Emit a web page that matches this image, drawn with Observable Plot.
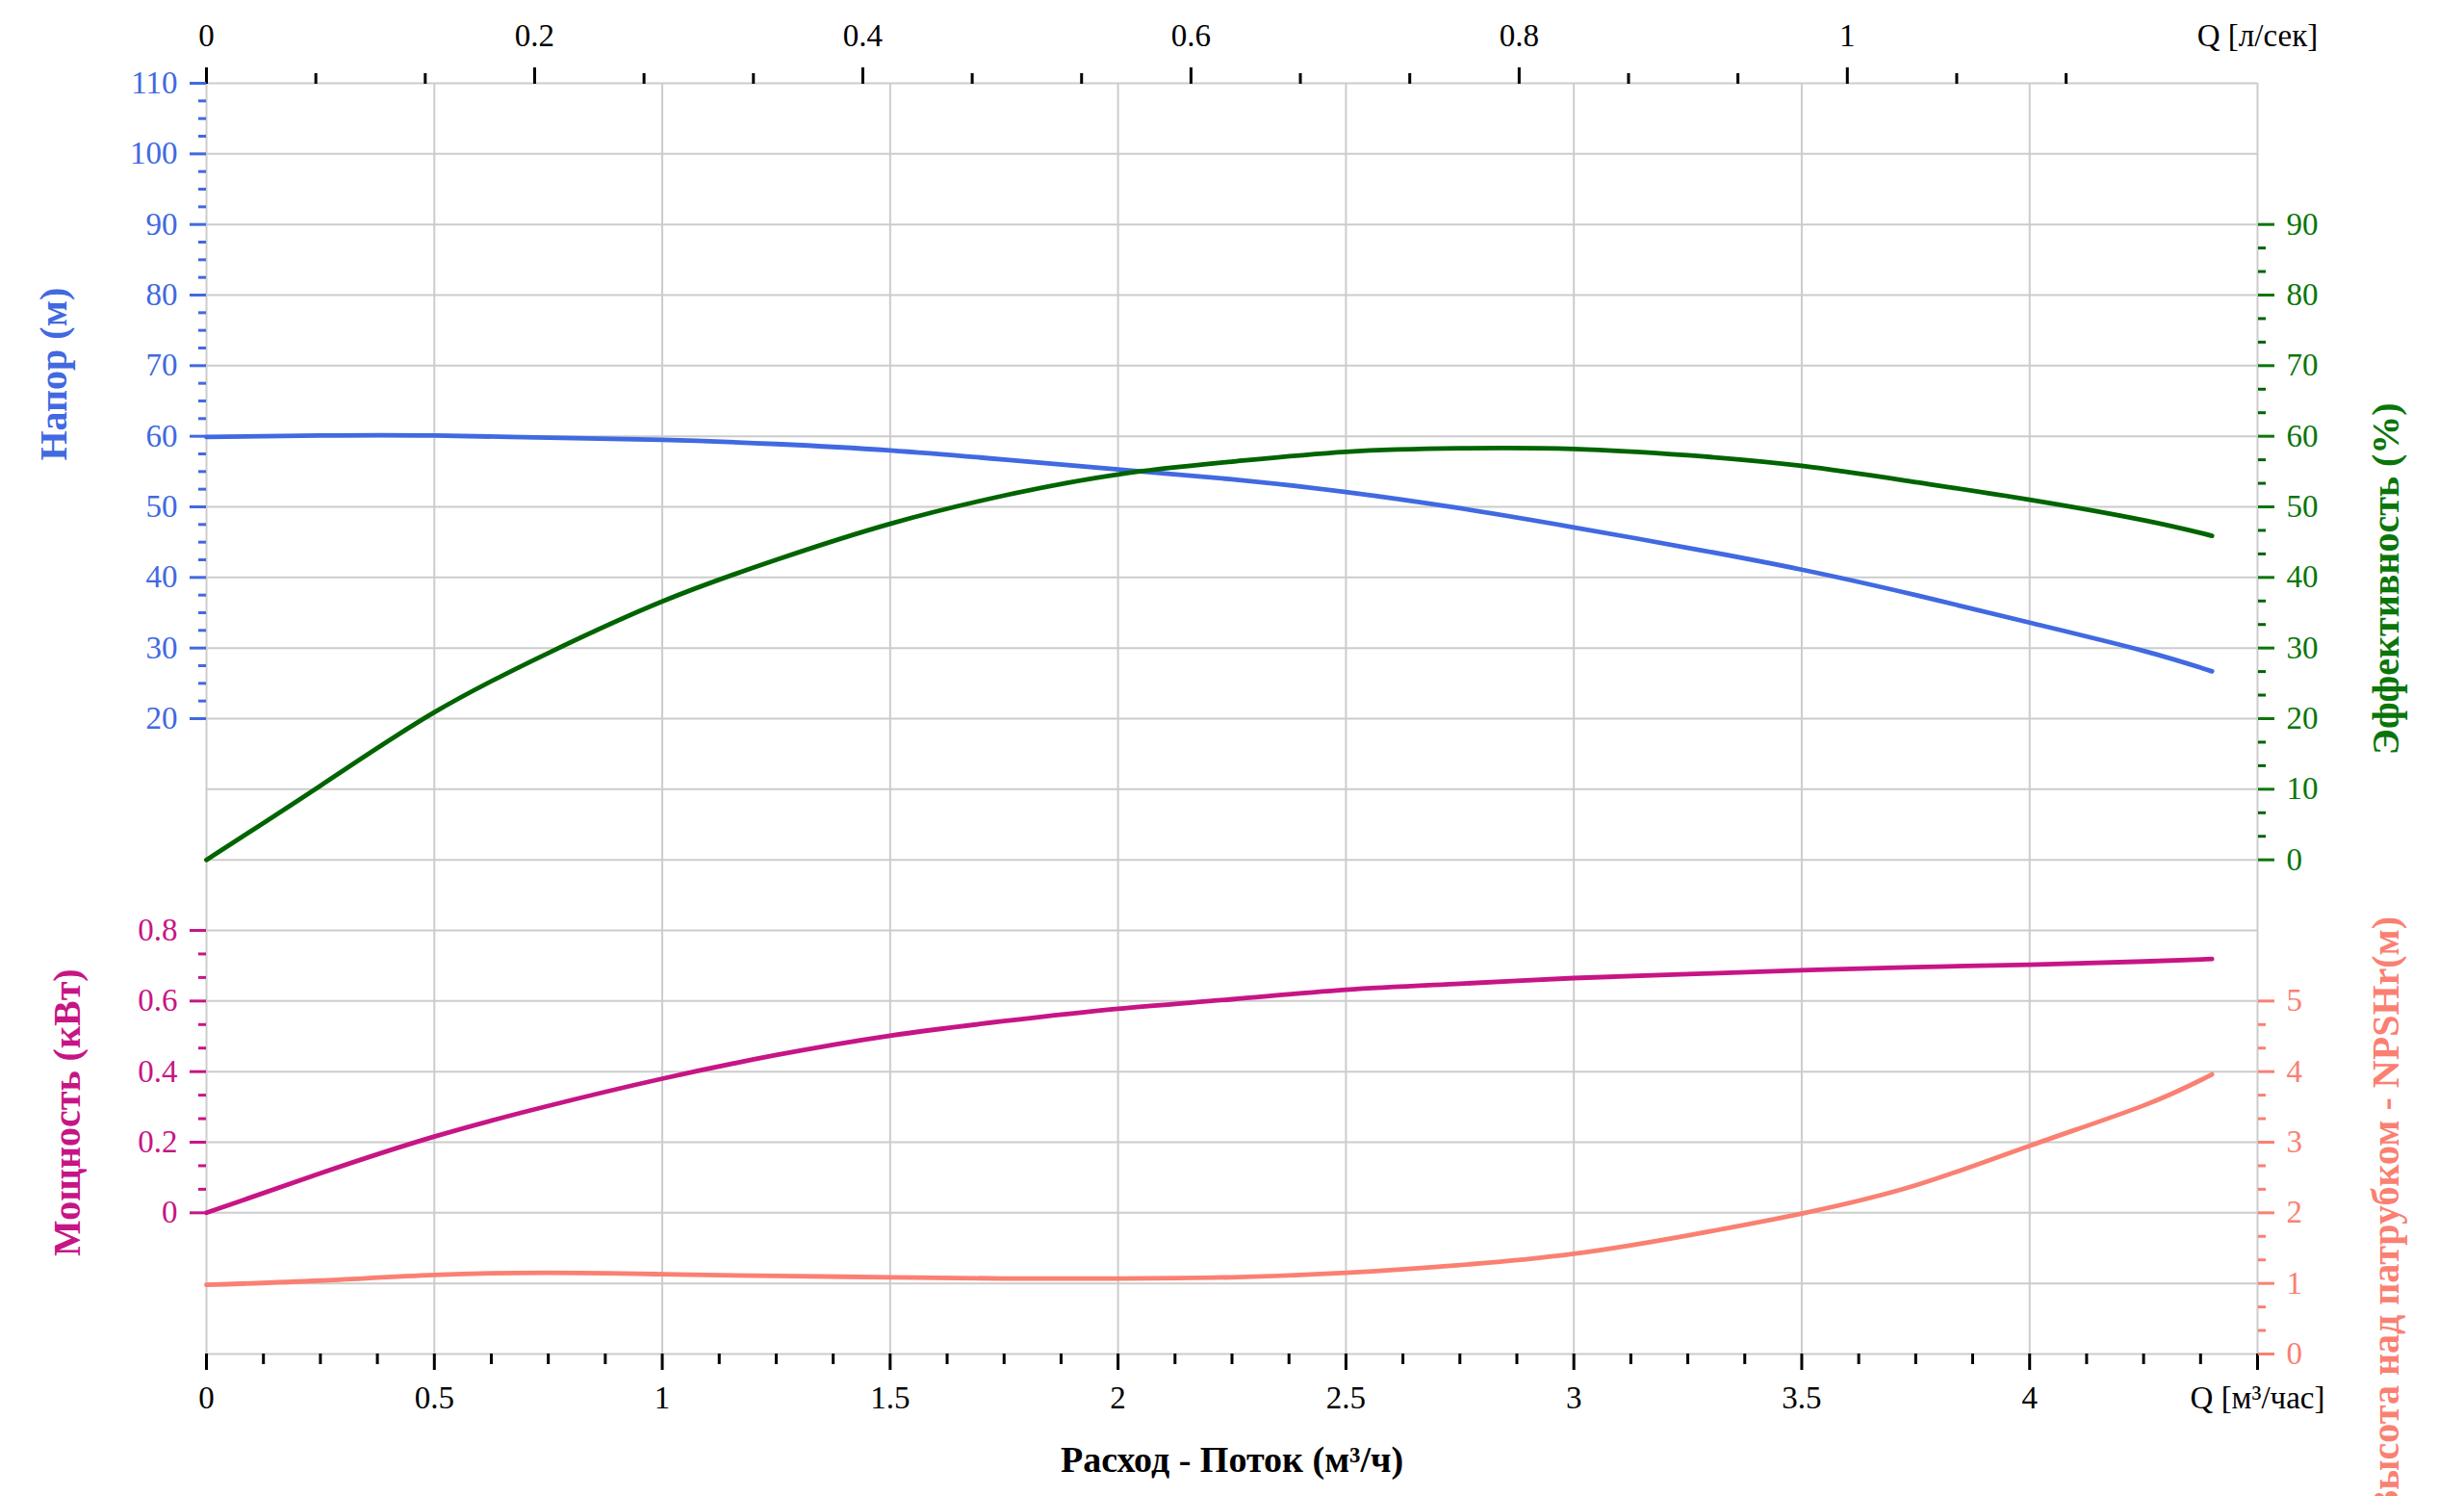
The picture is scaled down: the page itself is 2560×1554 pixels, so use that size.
<!DOCTYPE html>
<html>
<head>
<meta charset="utf-8">
<script src="https://cdn.jsdelivr.net/npm/d3@7"></script>
<script src="https://cdn.jsdelivr.net/npm/@observablehq/plot@0.6"></script>
<style>
html, body { margin: 0; padding: 0; background: #ffffff; }
#chart svg { display: block; }
#chart svg text { font-family: 'Liberation Serif', 'Times New Roman', serif; }
</style>
</head>
<body>
<div id="chart"></div>
<script>
// ---- data ----
const flowM3h = [0, 0.25, 0.5, 0.75, 1, 1.25, 1.5, 1.75, 2, 2.25, 2.5, 2.75, 3, 3.25, 3.5, 3.75, 4, 4.25, 4.4];
const headM = [59.9, 60.1, 60.1, 59.8, 59.5, 58.9, 58.0, 56.7, 55.3, 53.9, 52.1, 49.8, 47.1, 44.2, 41.1, 37.5, 33.6, 29.6, 26.7];
const efficiencyPct = [0, 10.5, 20.9, 29.3, 36.6, 42.5, 47.6, 51.6, 54.6, 56.4, 57.8, 58.3, 58.2, 57.3, 55.8, 53.5, 51.0, 48.1, 45.9];
const powerKW = [0, 0.112, 0.216, 0.303, 0.380, 0.447, 0.502, 0.543, 0.578, 0.605, 0.632, 0.649, 0.665, 0.676, 0.687, 0.696, 0.703, 0.712, 0.719];
const npshM = [0.98, 1.04, 1.12, 1.15, 1.13, 1.105, 1.087, 1.07, 1.07, 1.087, 1.15, 1.26, 1.42, 1.68, 1.99, 2.39, 2.95, 3.52, 3.96];

// ---- tick labels ----
const flowTicksM3h = [0, 0.5, 1, 1.5, 2, 2.5, 3, 3.5, 4, 4.5];
const flowTicksLs = [0, 0.2, 0.4, 0.6, 0.8, 1];
const headTicks = [20, 30, 40, 50, 60, 70, 80, 90, 100, 110];
const effTicks = [0, 10, 20, 30, 40, 50, 60, 70, 80, 90];
const powerTicks = [0, 0.2, 0.4, 0.6, 0.8];
const npshTicks = [0, 1, 2, 3, 4, 5];

const unitM3h = "Q [м³/час]";
const unitLs = "Q [л/сек]";
const titleHead = "Напор (м)";
const titleEff = "Эффективность (%)";
const titlePower = "Мощность (кВт)";
const titleNpsh = "Высота над патрубком - NPSHr(м)";
const titleFlow = "Расход - Поток (м³/ч)";

// ---- axis mappings onto a shared grid of 18 rows ----
const headRow = v => 7 + v / 10;
const effRow = v => 7 + v / 10;
const powerRow = v => 2 + v * 5;
const npshRow = v => v;
const lsToM3h = v => v * 3.6;
const fmt = v => String(+v.toFixed(3));
const blank = () => "";

const rows = flowM3h.map((q, i) => ({q, head: headM[i], eff: efficiencyPct[i], power: powerKW[i], npsh: npshM[i]}));

const C_HEAD = "#4169e1", C_EFF = "#006400", C_EFF_TXT = "#0a760a", C_POW = "#c71585", C_NPSH = "#fa8072";
const GRID = "#cccccc";
const TICK_W = 3;
const FF = "'Liberation Serif', 'Times New Roman', serif";

const near = (arr, v) => arr.some(a => Math.abs(a - v) < 1e-6);
const minorBottom = d3.range(0, 37).map(i => i * 0.125).filter(v => !near(flowTicksM3h, v));
const minorTop = d3.range(0, 18).map(i => i / 15).filter(v => !near(flowTicksLs, v));
const minorHead = d3.range(0, 37).map(i => 20 + i * 2.5).filter(v => !near(headTicks, v));
const minorEff = d3.range(0, 28).map(i => i * 10 / 3).filter(v => !near(effTicks, v));
const minorPow = d3.range(0, 13).map(i => i * 0.2 / 3).filter(v => !near(powerTicks, v));
const minorNpsh = d3.range(0, 16).map(i => i / 3).filter(v => !near(npshTicks, v));

const FS = 33;
const TFS = 40;
const LW = 4.8;

const chart = Plot.plot({
  width: 2560,
  height: 1554,
  marginLeft: 214,
  marginRight: 215,
  marginTop: 86,
  marginBottom: 148,
  style: {fontFamily: FF, fontSize: FS + "px", background: "#ffffff"},
  x: {domain: [0, 4.5]},
  y: {domain: [0, 18]},
  marks: [
    // grid
    Plot.gridX({ticks: flowTicksM3h, stroke: GRID, strokeOpacity: 1, strokeWidth: 2}),
    Plot.gridY({ticks: d3.range(0, 19), stroke: GRID, strokeOpacity: 1, strokeWidth: 2}),

    // bottom axis (m3/h)
    Plot.axisX({anchor: "bottom", ticks: flowTicksM3h, tickSize: 17, tickPadding: 16, strokeWidth: TICK_W, fontSize: FS, fontFamily: FF,
      tickFormat: v => Math.abs(v - 4.5) < 1e-6 ? unitM3h : fmt(v), color: "#000", label: null}),
    Plot.axisX({anchor: "bottom", ticks: minorBottom, tickSize: 11, tickFormat: blank, strokeWidth: TICK_W, color: "#000", label: null}),

    // top axis (l/s)
    Plot.axisX({anchor: "top", ticks: flowTicksLs.map(lsToM3h), tickSize: 17, tickPadding: 22, strokeWidth: TICK_W, fontSize: FS, fontFamily: FF,
      tickFormat: v => fmt(v / 3.6), color: "#000", label: null}),
    Plot.axisX({anchor: "top", ticks: minorTop.map(lsToM3h), tickSize: 11, tickFormat: blank, strokeWidth: TICK_W, color: "#000", label: null}),
    Plot.axisX({anchor: "top", ticks: [4.5], tickSize: 0, tickPadding: 39, fontSize: FS, fontFamily: FF, tickFormat: () => unitLs, color: "#000", label: null}),

    // left head axis
    Plot.axisY({anchor: "left", ticks: headTicks.map(headRow), tickSize: 17, tickPadding: 13, strokeWidth: TICK_W, fontSize: FS, fontFamily: FF,
      tickFormat: r => fmt((r - 7) * 10), color: C_HEAD, label: null}),
    Plot.axisY({anchor: "left", ticks: minorHead.map(headRow), tickSize: 8, tickFormat: blank, strokeWidth: TICK_W, color: C_HEAD, label: null}),

    // left power axis
    Plot.axisY({anchor: "left", ticks: powerTicks.map(powerRow), tickSize: 17, tickPadding: 13, strokeWidth: TICK_W, fontSize: FS, fontFamily: FF,
      tickFormat: r => fmt((r - 2) / 5), color: C_POW, label: null}),
    Plot.axisY({anchor: "left", ticks: minorPow.map(powerRow), tickSize: 8, tickFormat: blank, strokeWidth: TICK_W, color: C_POW, label: null}),

    // right efficiency axis
    Plot.axisY({anchor: "right", ticks: effTicks.map(effRow), tickSize: 17, tickPadding: 13, strokeWidth: TICK_W, fontSize: FS, fontFamily: FF,
      tickFormat: r => fmt((r - 7) * 10), color: C_EFF_TXT, label: null}),
    Plot.axisY({anchor: "right", ticks: minorEff.map(effRow), tickSize: 8, tickFormat: blank, strokeWidth: TICK_W, color: C_EFF, label: null}),

    // right NPSH axis
    Plot.axisY({anchor: "right", ticks: npshTicks.map(npshRow), tickSize: 17, tickPadding: 13, strokeWidth: TICK_W, fontSize: FS, fontFamily: FF,
      tickFormat: r => fmt(r), color: C_NPSH, label: null}),
    Plot.axisY({anchor: "right", ticks: minorNpsh.map(npshRow), tickSize: 8, tickFormat: blank, strokeWidth: TICK_W, color: C_NPSH, label: null}),

    // curves
    Plot.line(rows, {x: "q", y: d => npshRow(d.npsh), stroke: C_NPSH, strokeWidth: LW, curve: "natural"}),
    Plot.line(rows, {x: "q", y: d => powerRow(d.power), stroke: C_POW, strokeWidth: LW, curve: "natural"}),
    Plot.line(rows, {x: "q", y: d => headRow(d.head), stroke: C_HEAD, strokeWidth: LW, curve: "natural"}),
    Plot.line(rows, {x: "q", y: d => effRow(d.eff), stroke: C_EFF, strokeWidth: LW, curve: "natural"}),

    // axis titles
    Plot.text([titleHead], {frameAnchor: "left", y: () => 13.88, dx: -158, rotate: -90, text: d => d, fontFamily: FF,
      fill: C_HEAD, fontWeight: "bold", fontSize: TFS, textAnchor: "middle", lineAnchor: "middle"}),
    Plot.text([titlePower], {frameAnchor: "left", y: () => 3.42, dx: -144, rotate: -90, text: d => d, fontFamily: FF,
      fill: C_POW, fontWeight: "bold", fontSize: TFS, textAnchor: "middle", lineAnchor: "middle"}),
    Plot.text([titleEff], {frameAnchor: "right", y: () => 10.98, dx: 134, rotate: -90, text: d => d, fontFamily: FF,
      fill: C_EFF_TXT, fontWeight: "bold", fontSize: TFS, textAnchor: "middle", lineAnchor: "middle"}),
    Plot.text([titleNpsh], {frameAnchor: "right", y: () => 6.2, dx: 134, rotate: -90, text: d => d, fontFamily: FF,
      fill: C_NPSH, fontWeight: "bold", fontSize: TFS, textAnchor: "end", lineAnchor: "middle"}),
    Plot.text([titleFlow], {frameAnchor: "bottom", dy: 110, text: d => d, fontFamily: FF,
      fill: "#000", fontWeight: "bold", fontSize: TFS - 2, textAnchor: "middle", lineAnchor: "middle"})
  ]
});
document.getElementById("chart").appendChild(chart);
</script>
</body>
</html>
